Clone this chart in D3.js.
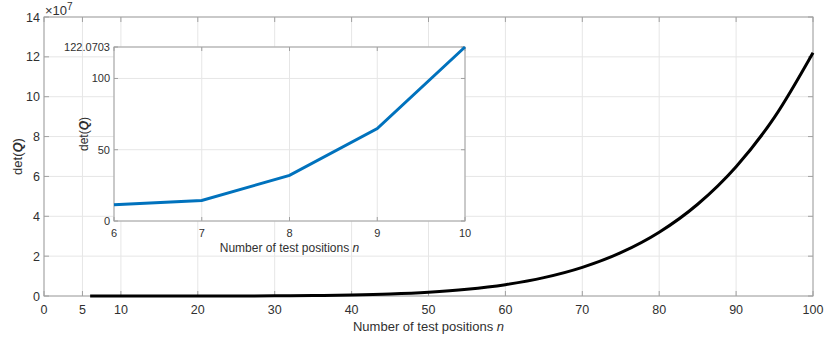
<!DOCTYPE html>
<html>
<head>
<meta charset="utf-8">
<script src="https://cdn.jsdelivr.net/npm/d3@7"></script>
<style>
  body { margin: 0; background: #fff; }
  svg { display: block; font-family: "Liberation Sans", Arial, sans-serif; }
  .grid line { stroke: #e6e6e6; stroke-width: 1; }
  .axis text { fill: #303030; }
</style>
</head>
<body>
<svg id="chart" width="824" height="342"></svg>
<script>
// main curve: det(Q) in units of 1e7, sampled along n
const mainN = [6, 10, 15, 20, 25, 30, 35, 40, 45, 50, 55, 60, 65, 70, 75, 80, 85, 90, 95, 100]
const mainDet = [0.0000011, 0.0000122, 0.000139, 0.00078, 0.00298, 0.0089, 0.0224, 0.05, 0.1014, 0.1907,
    0.3379, 0.5695, 0.9206, 1.4361, 2.1726, 3.2, 4.6039, 6.4873, 8.9733, 12.207]
const mainXTicks = [0, 5, 10, 20, 30, 40, 50, 60, 70, 80, 90, 100]
const mainYTicks = [0, 2, 4, 6, 8, 10, 12, 14]

// inset: first few n
const insetN = [6, 7, 8, 9, 10]
const insetDet = [11.39, 14.36, 32.0, 64.87, 122.0703]
const insetXTicks = [6, 7, 8, 9, 10]
const insetYTicks = [0, 50, 100, 122.0703]

const svg = d3.select('#chart')
const textCol = '#303030'
const boxCol = '#a0a0a0'

function drawAxes(g, x, y, xTicks, yTicks, opts) {
    const [x0, x1] = x.range()
    const [y0, y1] = y.range()

    g.append('rect')
        .attr('x', x0).attr('y', y1)
        .attr('width', x1 - x0).attr('height', y0 - y1)
        .attr('fill', '#fff')

    // grid
    const grid = g.append('g').attr('class', 'grid')
    grid.selectAll('.gx').data(xTicks).join('line')
        .attr('x1', d => x(d)).attr('x2', d => x(d))
        .attr('y1', y0).attr('y2', y1)
    grid.selectAll('.gy').data(yTicks).join('line')
        .attr('class', 'gy')
        .attr('x1', x0).attr('x2', x1)
        .attr('y1', d => y(d)).attr('y2', d => y(d))

    // inward ticks on all four sides
    const tl = opts.tick
    const ticks = g.append('g').attr('stroke', boxCol).attr('stroke-width', 1)
    xTicks.forEach(d => {
        ticks.append('line').attr('x1', x(d)).attr('x2', x(d)).attr('y1', y0).attr('y2', y0 - tl)
        ticks.append('line').attr('x1', x(d)).attr('x2', x(d)).attr('y1', y1).attr('y2', y1 + tl)
    })
    yTicks.forEach(d => {
        ticks.append('line').attr('y1', y(d)).attr('y2', y(d)).attr('x1', x0).attr('x2', x0 + tl)
        ticks.append('line').attr('y1', y(d)).attr('y2', y(d)).attr('x1', x1).attr('x2', x1 - tl)
    })

    g.append('rect')
        .attr('x', x0).attr('y', y1)
        .attr('width', x1 - x0).attr('height', y0 - y1)
        .attr('fill', 'none').attr('stroke', boxCol).attr('stroke-width', 1)

    // tick labels
    const lab = g.append('g').attr('class', 'axis')
        .style('font-size', opts.fs + 'px').attr('fill', textCol)
    lab.selectAll('.tx').data(xTicks).join('text')
        .attr('class', 'tx')
        .attr('x', d => x(d)).attr('y', y0 + opts.xtOff)
        .attr('text-anchor', 'middle')
        .text(d => d)
    lab.selectAll('.ty').data(yTicks).join('text')
        .attr('class', 'ty')
        .attr('x', x0 - 4).attr('y', d => y(d) + opts.fs * 0.36)
        .attr('text-anchor', 'end')
        .text(d => d)

    // axis titles
    const xl = g.append('text')
        .attr('x', (x0 + x1) / 2).attr('y', y0 + opts.xlOff)
        .attr('text-anchor', 'middle').attr('fill', textCol)
        .style('font-size', opts.lfs + 'px')
    xl.append('tspan').text('Number of test positions ')
    xl.append('tspan').style('font-style', 'italic').text('n')

    const yl = g.append('text')
        .attr('transform', `translate(${x0 - opts.ylOff},${(y0 + y1) / 2}) rotate(-90)`)
        .attr('text-anchor', 'middle').attr('fill', textCol)
        .style('font-size', opts.lfs + 'px')
    yl.append('tspan').text('det(')
    yl.append('tspan').style('font-style', 'italic').style('font-weight', 'bold').text('Q')
    yl.append('tspan').text(')')
}

// ---- main axes
const x = d3.scaleLinear().domain([0, 100]).range([44, 813])
const y = d3.scaleLinear().domain([0, 14]).range([296, 17])
const main = svg.append('g')
drawAxes(main, x, y, mainXTicks, mainYTicks, { tick: 5, fs: 12.5, xtOff: 18, lfs: 13, xlOff: 35, ylOff: 22 })

main.append('path')
    .datum(mainN.map((n, i) => [n, mainDet[i]]))
    .attr('fill', 'none')
    .attr('stroke', '#000')
    .attr('stroke-width', 3)
    .attr('d', d3.line().x(d => x(d[0])).y(d => y(d[1])).curve(d3.curveMonotoneX))

const mult = main.append('text')
    .attr('x', 45).attr('y', 15).attr('fill', textCol)
    .style('font-size', '13px')
mult.append('tspan').text('\u00d710')
mult.append('tspan').attr('dy', -5).style('font-size', '10px').text('7')

// ---- inset axes
const xi = d3.scaleLinear().domain([6, 10]).range([114, 465])
const yi = d3.scaleLinear().domain([0, 122.0703]).range([221, 47])
const inset = svg.append('g')
drawAxes(inset, xi, yi, insetXTicks, insetYTicks, { tick: 4, fs: 11, xtOff: 16, lfs: 12, xlOff: 31, ylOff: 26 })

inset.append('path')
    .datum(insetN.map((n, i) => [n, insetDet[i]]))
    .attr('fill', 'none')
    .attr('stroke', '#0072bd')
    .attr('stroke-width', 3)
    .attr('d', d3.line().x(d => xi(d[0])).y(d => yi(d[1])))
</script>
</body>
</html>
